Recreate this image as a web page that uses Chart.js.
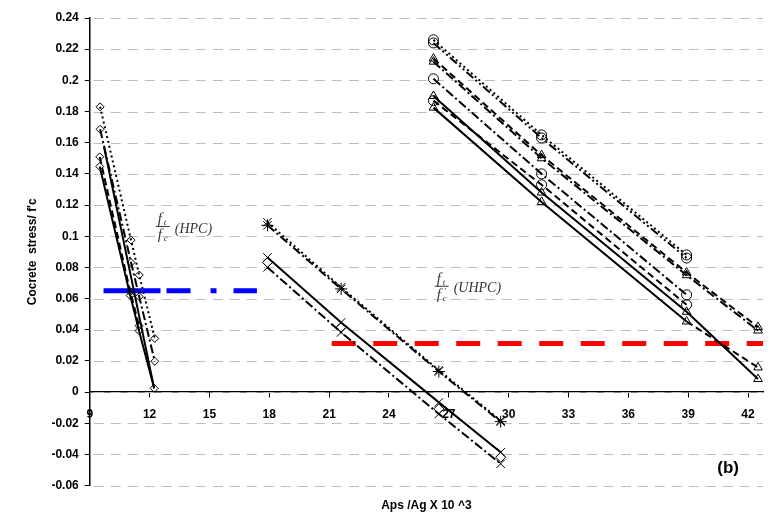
<!DOCTYPE html>
<html>
<head>
<meta charset="utf-8">
<script src="https://cdn.jsdelivr.net/npm/chart.js@4.4.0/dist/chart.umd.min.js"></script>
<style>
  html, body { margin: 0; padding: 0; background: #fff; }
</style>
</head>
<body>
<canvas id="chart" width="770" height="520"></canvas>
<script>
// tick values
const xTicks = [9, 12, 15, 18, 21, 24, 27, 30, 33, 36, 39, 42];
const yTicks = [-0.06, -0.04, -0.02, 0, 0.02, 0.04, 0.06, 0.08, 0.1, 0.12, 0.14, 0.16, 0.18, 0.2, 0.22, 0.24];

// HPC group (diamonds)
const hpcX = [9.52, 11.07, 11.48, 12.26];
const hpcA = [0.183, 0.0975, 0.0751, 0.0344];
const hpcB = [0.1686, 0.0831, 0.0612, 0.0197];
const hpcCX = [9.5, 11.03, 11.47];
const hpcC = [0.1509, 0.0644, 0.0426];
const hpcDX = [9.5, 11.03, 11.47, 12.23];
const hpcD = [0.1447, 0.062, 0.0394, 0.0024];
const hpcEX = [9.72, 12.23];
const hpcE = [0.157, 0.0024];

// UHPC group with crosses
const crossX = [17.91, 21.6, 26.5, 29.6];
const crossA = [0.109, 0.0672, 0.014, -0.0183];
const crossB = [0.107, 0.0662, 0.0132, -0.019];
const crossC = [0.0864, 0.0447, -0.0066, -0.0386];
const crossD = [0.0832, 0.0415, -0.0108, -0.0418];
const crossE = [0.08, 0.0383, -0.014, -0.046];

// UHPC group with circles and triangles
const circX = [26.23, 31.65, 38.92];
const circA = [0.226, 0.165, 0.088];
const circB = [0.224, 0.163, 0.086];
const circC = [0.201, 0.14, 0.0624];
const circD = [0.187, 0.133, 0.056];
const triX = [26.23, 31.65, 38.92, 42.5];
const triA = [0.214, 0.152, 0.0767, 0.0417];
const triB = [0.212, 0.15, 0.075, 0.0395];
const triC = [0.19, 0.128, 0.0515, 0.0084];
const triD = [0.1825, 0.122, 0.0453, 0.0158];

// tensile limits
const hpcLimitX = [9.69, 17.38];
const hpcLimit = 0.065;
const uhpcLimitX = [21.13, 42.75];
const uhpcLimit = 0.0312;

const DOT = [2, 3];
const DASH = [7, 4];
const DASHDOT = [9, 3, 2, 3];
const DASHDOTDOT = [9, 3, 2, 3, 2, 3];

function series(xs, ys, opts) {
    return Object.assign({
        data: xs.map((x, i) => ({x: x, y: ys[i]})),
        showLine: true,
        borderColor: '#000',
        borderWidth: 2,
        pointBorderColor: '#000',
        pointBackgroundColor: 'rgba(255,255,255,0)',
        pointBorderWidth: 1,
        pointRadius: 4,
        pointHoverRadius: 4,
        tension: 0,
        fill: false
    }, opts);
}

function limit(xs, v, color, dash) {
    return {
        data: xs.map(x => ({x: x, y: v})),
        showLine: true,
        borderColor: color,
        borderWidth: 5,
        borderDash: dash,
        pointRadius: 0,
        pointHoverRadius: 0,
        fill: false
    };
}

const datasets = [
    series(hpcX, hpcA, {pointStyle: 'rectRot', borderDash: DOT}),
    series(hpcX, hpcB, {pointStyle: 'rectRot', borderDash: DASHDOT}),
    series(hpcCX, hpcC, {pointStyle: 'rectRot', borderDash: DASH}),
    series(hpcDX, hpcD, {pointStyle: 'rectRot'}),
    series(hpcEX, hpcE, {pointRadius: 0}),

    series(crossX, crossA, {pointStyle: 'crossRot', pointRadius: 6, borderDash: DOT}),
    series(crossX, crossB, {pointStyle: 'star', pointRadius: 6, borderDash: DASHDOT}),
    series(crossX, crossC, {pointStyle: 'crossRot', pointRadius: 6}),
    series(crossX, crossD, {pointStyle: 'rectRot', pointRadius: 5, showLine: false}),
    series(crossX, crossE, {pointStyle: 'crossRot', pointRadius: 6, borderDash: DASHDOT}),

    series(circX, circA, {pointStyle: 'circle', pointRadius: 5, borderDash: DOT}),
    series(circX, circB, {pointStyle: 'circle', pointRadius: 5, borderDash: DASHDOTDOT}),
    series(circX, circC, {pointStyle: 'circle', pointRadius: 5, borderDash: DASHDOT}),
    series(circX, circD, {pointStyle: 'circle', pointRadius: 5, borderDash: DASH}),
    series(triX, triA, {pointStyle: 'triangle', pointRadius: 5, borderDash: DASH}),
    series(triX, triB, {pointStyle: 'triangle', pointRadius: 5, borderDash: DASHDOT}),
    series(triX, triC, {pointStyle: 'triangle', pointRadius: 5}),
    series(triX, triD, {pointStyle: 'triangle', pointRadius: 5,
        segment: {borderDash: c => c.p0DataIndex === 2 ? DASH : undefined}}),

    limit(hpcLimitX, hpcLimit, '#0000ff', [57, 6, 24, 20, 6, 17]),
    limit(uhpcLimitX, uhpcLimit, '#ff0000', [24, 17.5])
];

// dashed horizontal grid lines at the y ticks
const dashedGrid = {
    id: 'dashedGrid',
    beforeDatasetsDraw(chart) {
        const {ctx, chartArea, scales: {y}} = chart;
        ctx.save();
        ctx.strokeStyle = '#bdbdbd';
        ctx.lineWidth = 1;
        ctx.setLineDash([10, 7]);
        y.ticks.forEach(t => {
            const py = Math.round(y.getPixelForValue(t.value)) + 0.5;
            ctx.beginPath();
            ctx.moveTo(chartArea.left + 4, py);
            ctx.lineTo(chartArea.right, py);
            ctx.stroke();
        });
        ctx.restore();
    }
};

// draw a small ratio like f_t / f_c next to a label
function drawRatio(ctx, cx, cy, label, prime) {
    ctx.strokeStyle = '#333';
    ctx.fillStyle = '#333';
    ctx.lineWidth = 1;
    ctx.beginPath();
    ctx.moveTo(cx - 7, cy + 0.5);
    ctx.lineTo(cx + 7, cy + 0.5);
    ctx.stroke();
    ctx.textAlign = 'left';
    ctx.textBaseline = 'alphabetic';
    ctx.font = 'italic 15px "Liberation Serif", serif';
    ctx.fillText('f', cx - 5, cy - 3);
    ctx.fillText('f', cx - 5, cy + 13);
    ctx.font = 'italic 9px "Liberation Serif", serif';
    ctx.fillText('t', cx + 1, cy - 1);
    ctx.fillText('c', cx + 1, cy + 15);
    if (prime) ctx.fillText('\'', cx + 2, cy + 8);
    ctx.font = 'italic 14px "Liberation Serif", serif';
    ctx.textBaseline = 'middle';
    ctx.fillText(label, cx + 12, cy + 3);
}

const notes = {
    id: 'notes',
    afterDatasetsDraw(chart) {
        const {ctx, scales: {x, y}} = chart;
        ctx.save();
        drawRatio(ctx, x.getPixelForValue(12.66), y.getPixelForValue(0.1066), '(HPC)', false);
        drawRatio(ctx, x.getPixelForValue(26.64), y.getPixelForValue(0.0682), '(UHPC)', true);
        ctx.fillStyle = '#000';
        ctx.font = 'bold 17px "Liberation Sans", Arial, sans-serif';
        ctx.textAlign = 'center';
        ctx.textBaseline = 'middle';
        ctx.fillText('(b)', x.getPixelForValue(41.0), y.getPixelForValue(-0.049));
        ctx.restore();
    }
};

const boldFont = {family: '"Liberation Sans", Arial, sans-serif', size: 12, weight: 'bold'};

new Chart(document.getElementById('chart'), {
    type: 'scatter',
    data: {datasets: datasets},
    options: {
        responsive: false,
        animation: false,
        layout: {padding: {left: 20, top: 18, right: 0, bottom: 6}},
        plugins: {
            legend: {display: false},
            tooltip: {enabled: false}
        },
        scales: {
            x: {
                type: 'linear',
                position: {y: 0},
                min: 9,
                max: 42.75,
                afterBuildTicks: s => { s.ticks = xTicks.map(v => ({value: v})); },
                grid: {drawOnChartArea: false, tickLength: 5, tickColor: '#000'},
                border: {color: '#000', width: 1.5},
                ticks: {font: boldFont, color: '#000', padding: 10, maxRotation: 0, autoSkip: false}
            },
            xTitle: {
                type: 'linear',
                axis: 'x',
                position: 'bottom',
                min: 9,
                max: 42.75,
                ticks: {display: false},
                grid: {display: false},
                border: {display: false},
                title: {display: true, text: 'Aps /Ag X 10 ^3', font: boldFont, color: '#000', padding: {top: 5, bottom: 1}}
            },
            y: {
                type: 'linear',
                min: -0.06,
                max: 0.24,
                afterBuildTicks: s => { s.ticks = yTicks.map(v => ({value: v})); },
                grid: {drawOnChartArea: false, tickLength: 5, tickColor: '#000'},
                border: {color: '#000', width: 1.5},
                ticks: {font: boldFont, color: '#000', padding: 6, callback: v => String(+v.toFixed(2))},
                title: {display: true, text: 'Cocrete  stress/ f\'c', font: boldFont, color: '#000', padding: {top: 5, bottom: 6}}
            }
        }
    },
    plugins: [dashedGrid, notes]
});
</script>
</body>
</html>
